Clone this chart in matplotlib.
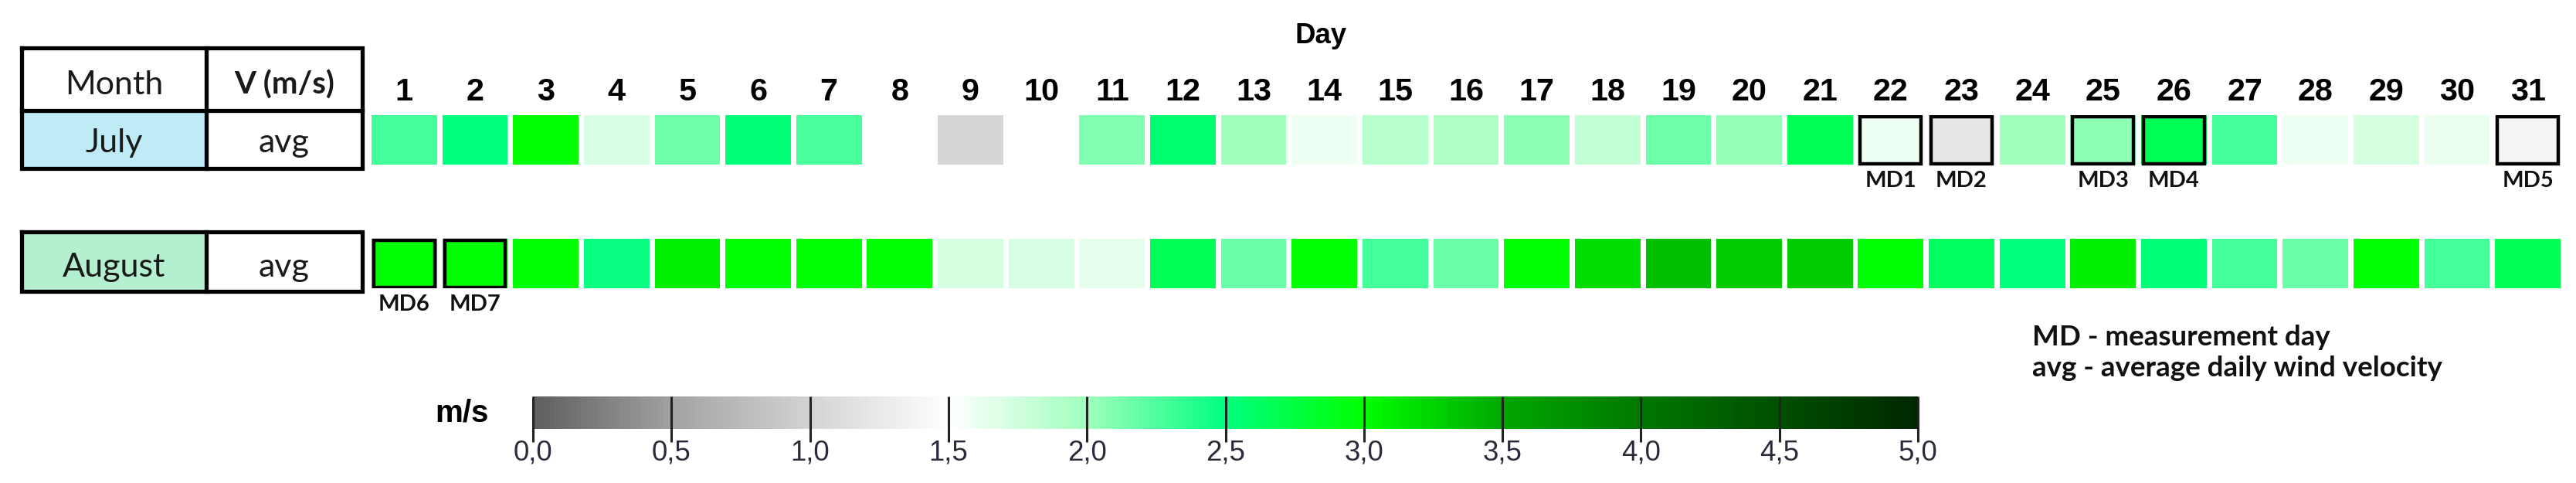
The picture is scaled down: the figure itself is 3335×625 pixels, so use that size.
import numpy as np
import matplotlib
matplotlib.use("Agg")
import matplotlib.pyplot as plt
from matplotlib import font_manager as fm
from matplotlib.colors import LinearSegmentedColormap, Normalize
from matplotlib.patches import Rectangle
import matplotlib.cm as cm

# ---------------- data ----------------
days = list(range(1, 32))
day_labels = [str(d) for d in days]

july_avg = [2.30, 2.50, 3.00, 1.70, 2.15, 2.52, 2.27, np.nan, 1.02, np.nan,
            2.10, 2.56, 2.00, 1.59, 1.89, 1.93, 2.07, 1.81, 2.16, 2.05,
            2.67, 1.59, 1.23, 2.00, 2.07, 2.67, 2.30, 1.59, 1.72, 1.61, 1.38]
august_avg = [3.00, 3.00, 3.00, 2.48, 3.10, 3.00, 3.00, 3.00, 1.72, 1.70,
              1.66, 2.67, 2.18, 3.00, 2.30, 2.18, 3.00, 3.20, 3.36, 3.29,
              3.29, 3.00, 2.62, 2.50, 3.10, 2.52, 2.30, 2.18, 3.00, 2.30, 2.67]

months = ["July", "August"]
month_fill = ["#bfebf7", "#b4efd0"]
header = ["Month", "V (m/s)"]
row_kind = "avg"

md_days_july = [22, 23, 25, 26, 31]
md_labels_july = ["MD1", "MD2", "MD3", "MD4", "MD5"]
md_days_august = [1, 2]
md_labels_august = ["MD6", "MD7"]

cbar_ticks = [0.0, 0.5, 1.0, 1.5, 2.0, 2.5, 3.0, 3.5, 4.0, 4.5, 5.0]
cbar_tick_labels = [f"{t:.1f}".replace(".", ",") for t in cbar_ticks]
cmap_nodes = [0.0, 0.5, 1.0, 1.5, 2.0, 2.5, 3.0, 3.5, 4.0, 4.5, 5.0]
cmap_node_colors = ["#5f5f5f", "#a2a2a2", "#d4d4d4", "#ffffff", "#a0ffbc",
                    "#00ff80", "#00ff00", "#00a800", "#007800", "#004f00", "#002800"]

legend_lines = ["MD - measurement day", "avg - average daily wind velocity"]

# ---------------- fonts ----------------
names = {f.name for f in fm.fontManager.ttflist}
if "Liberation Sans Narrow" in names:
    NARROW, nscale = "Liberation Sans Narrow", 1.0
else:
    NARROW, nscale = "Liberation Sans", 0.85

# ---------------- figure ----------------
W, H = 3335, 625
fig = plt.figure(figsize=(W / 100, H / 100), dpi=100)


def fax(x0, y0, x1, y1):
    return fig.add_axes([x0 / W, 1 - y1 / H, (x1 - x0) / W, (y1 - y0) / H])


bg = fax(0, 0, W, H)
bg.set_xlim(0, W)
bg.set_ylim(H, 0)
bg.axis("off")

cmap = LinearSegmentedColormap.from_list(
    "wind", [(v / 5.0, c) for v, c in zip(cmap_nodes, cmap_node_colors)])
cmap.set_bad((1, 1, 1, 0))
norm = Normalize(0, 5)

# ---------------- heat cells ----------------
ax = fax(477.5, 149, 3318.5, 373)
ax.set_xlim(0.5, 31.5)
ax.set_ylim(0, 3.5)
rows = [(july_avg, 2.5, md_days_july, md_labels_july),
        (august_avg, 0.0, md_days_august, md_labels_august)]
for vals, base, mdd, mdl in rows:
    v = np.ma.masked_invalid(np.array(vals, dtype=float))
    cols = cmap(norm(v))
    ax.bar(days, 1.0, bottom=base, width=0.925, color=cols, linewidth=0)
    ax.bar(mdd, 0.95, bottom=base + 0.02, width=0.86, facecolor="none",
           edgecolor="black", linewidth=3.2)
    for d, lab in zip(mdd, mdl):
        ax.text(d, base - 0.33, lab, ha="center", va="center", fontsize=21,
                fontweight="bold", family="Lato", color="#111111", clip_on=False)

ax.xaxis.tick_top()
ax.set_xticks(days)
ax.set_xticklabels(day_labels, family=NARROW, fontweight="bold",
                   fontsize=35 * nscale)
ax.tick_params(axis="x", length=0, pad=8)
ax.set_yticks([])
for s in ax.spines.values():
    s.set_visible(False)
ax.patch.set_alpha(0)

# ---------------- table ----------------
tx = [28, 267, 469]
lw_t = 3.8
bg.add_patch(Rectangle((tx[0], 143), tx[1] - tx[0], 75, facecolor=month_fill[0], lw=0))
bg.add_patch(Rectangle((tx[0], 300), tx[1] - tx[0], 77, facecolor=month_fill[1], lw=0))
for (y0, y1) in [(62, 218), (300, 377)]:
    bg.plot([tx[0], tx[2], tx[2], tx[0], tx[0]], [y0, y0, y1, y1, y0],
            color="black", lw=lw_t, solid_joinstyle="miter")
    bg.plot([tx[1], tx[1]], [y0, y1], color="black", lw=lw_t)
bg.plot([tx[0], tx[2]], [143, 143], color="black", lw=lw_t)

cx = [(tx[0] + tx[1]) / 2, (tx[1] + tx[2]) / 2]
bg.text(cx[0], 122, header[0], ha="center", va="baseline", fontsize=31,
        family="Lato", color="#1a1a1a")
bg.text(cx[1], 122, header[1], ha="center", va="baseline", fontsize=29,
        family="Lato", fontweight="bold", color="#1a1a1a")
for m, yb in zip(months, [197, 358]):
    bg.text(cx[0], yb, m, ha="center", va="baseline", fontsize=31,
            family="Lato", color="#1a1a1a")
    bg.text(cx[1], yb, row_kind, ha="center", va="baseline", fontsize=31,
            family="Lato", color="#1a1a1a")

# ---------------- titles / legend ----------------
bg.text(1710, 56, "Day", ha="center", va="baseline", fontsize=31 * nscale,
        family=NARROW, fontweight="bold")
bg.text(2631, 447, legend_lines[0], ha="left", va="baseline", fontsize=26.5,
        family="Lato", fontweight="bold", color="#111111")
bg.text(2631, 487, legend_lines[1], ha="left", va="baseline", fontsize=26.5,
        family="Lato", fontweight="bold", color="#111111")
bg.text(598, 534, "m/s", ha="center", va="center", fontsize=29,
        family="Liberation Sans", fontweight="bold")

# ---------------- colorbar ----------------
cax = fax(690, 513, 2483, 555)
sm = cm.ScalarMappable(norm=norm, cmap=cmap)
cb = fig.colorbar(sm, cax=cax, orientation="horizontal")
cb.outline.set_visible(False)
cax.set_xticks(cbar_ticks)
cax.set_xticklabels(cbar_tick_labels, family=NARROW, fontsize=31 * nscale,
                    color="#2a2a3a")
cax.tick_params(axis="x", length=0, pad=10)
cax.vlines(cbar_ticks, -0.4, 1.0, colors="#222222", lw=2.2, clip_on=False)

fig.savefig("out.png", dpi=100)
